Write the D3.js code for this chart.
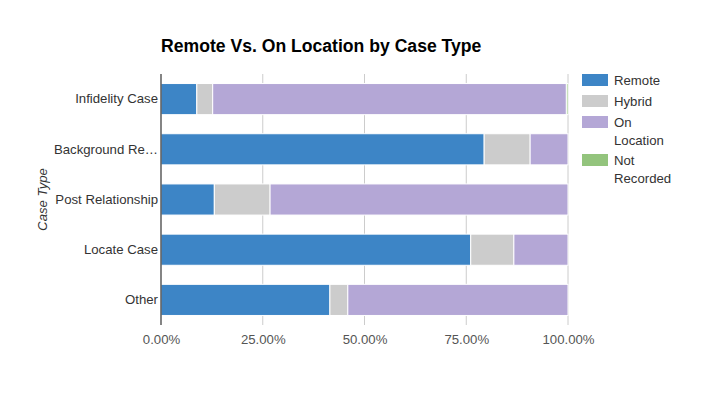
<!DOCTYPE html>
<html>
<head>
<meta charset="utf-8">
<script src="https://cdn.jsdelivr.net/npm/d3@7"></script>
<style>
  body { margin: 0; background: #fff; }
  svg { font-family: Arial, "Liberation Sans", sans-serif; }
</style>
</head>
<body>
<svg id="chart" width="707" height="393"></svg>
<script>
// Data
const caseTypes = ["Infidelity Case", "Background Re…", "Post Relationship", "Locate Case", "Other"];
const seriesNames = ["Remote", "Hybrid", "On Location", "Not Recorded"];
const remote      = [8.8, 79.4, 13.1, 76.1, 41.5];
const hybrid      = [3.9, 11.3, 13.7, 10.6, 4.4];
const onLocation  = [86.9, 9.3, 73.2, 13.3, 54.1];
const notRecorded = [0.4, 0, 0, 0, 0];
const xTicks = [0, 25, 50, 75, 100];
const colors = ["#3d85c6", "#cccccc", "#b4a7d6", "#93c47d"];

const width = 707;
const height = 393;
const margin = { top: 74, right: 139, bottom: 68, left: 161 };
const labelFont = 13.2;

const svg = d3.select("#chart");

const rows = caseTypes.map((c, i) => ({
    caseType: c,
    "Remote": remote[i],
    "Hybrid": hybrid[i],
    "On Location": onLocation[i],
    "Not Recorded": notRecorded[i]
}));

const stacked = d3.stack().keys(seriesNames)(rows);

const x = d3.scaleLinear()
    .domain([0, 100])
    .range([margin.left, width - margin.right]);

const y = d3.scaleBand()
    .domain(caseTypes)
    .range([margin.top, height - margin.bottom])
    .paddingInner(0.38)
    .paddingOuter(0.19);

const color = d3.scaleOrdinal().domain(seriesNames).range(colors);

// Title
svg.append("text")
    .attr("x", margin.left)
    .attr("y", 52)
    .attr("font-size", 17.6)
    .attr("font-weight", "bold")
    .attr("fill", "#000")
    .text("Remote Vs. On Location by Case Type");

// Gridlines
svg.append("g")
    .selectAll("line")
    .data(xTicks.slice(1))
    .join("line")
    .attr("x1", d => x(d)).attr("x2", d => x(d))
    .attr("y1", margin.top).attr("y2", height - margin.bottom)
    .attr("stroke", "#cccccc")
    .attr("stroke-width", 1);

// Bars
svg.append("g")
    .selectAll("g")
    .data(stacked)
    .join("g")
    .attr("fill", d => color(d.key))
    .selectAll("rect")
    .data(d => d)
    .join("rect")
    .attr("x", d => x(d[0]))
    .attr("y", d => y(d.data.caseType))
    .attr("width", d => Math.max(0, x(d[1]) - x(d[0])))
    .attr("height", y.bandwidth())
    .attr("stroke", "#fff")
    .attr("stroke-width", d => (d[1] - d[0]) > 0 ? 1 : 0);

// Baseline
svg.append("line")
    .attr("x1", x(0)).attr("x2", x(0))
    .attr("y1", margin.top).attr("y2", height - margin.bottom)
    .attr("stroke", "#333")
    .attr("stroke-width", 1.2);

// X axis labels
svg.append("g")
    .attr("transform", `translate(0,${height - margin.bottom})`)
    .call(d3.axisBottom(x).tickValues(xTicks).tickSize(0).tickPadding(10)
        .tickFormat(d => d3.format(".2f")(d) + "%"))
    .call(g => g.select(".domain").remove())
    .call(g => g.selectAll("text").attr("font-size", labelFont).attr("fill", "#555").attr("font-family", "Arial, 'Liberation Sans', sans-serif"));

// Y axis labels
svg.append("g")
    .attr("transform", `translate(${margin.left},0)`)
    .call(d3.axisLeft(y).tickSize(0).tickPadding(3))
    .call(g => g.select(".domain").remove())
    .call(g => g.selectAll("text").attr("font-size", labelFont).attr("fill", "#333").attr("font-family", "Arial, 'Liberation Sans', sans-serif"));

// Y axis title
svg.append("text")
    .attr("transform", `translate(47,${(margin.top + height - margin.bottom) / 2}) rotate(-90)`)
    .attr("text-anchor", "middle")
    .attr("font-size", labelFont)
    .attr("font-style", "italic")
    .attr("fill", "#333")
    .text("Case Type");

// Legend
const legendItems = [
    { name: "Remote", lines: ["Remote"], y: 80 },
    { name: "Hybrid", lines: ["Hybrid"], y: 101 },
    { name: "On Location", lines: ["On", "Location"], y: 122 },
    { name: "Not Recorded", lines: ["Not", "Recorded"], y: 160 }
];
const legend = svg.append("g");
legendItems.forEach(item => {
    legend.append("rect")
        .attr("x", 582).attr("y", item.y - 6)
        .attr("width", 26).attr("height", 12)
        .attr("fill", color(item.name));
    item.lines.forEach((t, i) => {
        legend.append("text")
            .attr("x", 614)
            .attr("y", item.y + i * 18.5)
            .attr("dy", "0.35em")
            .attr("font-size", labelFont)
            .attr("fill", "#333")
            .text(t);
    });
});
</script>
</body>
</html>
